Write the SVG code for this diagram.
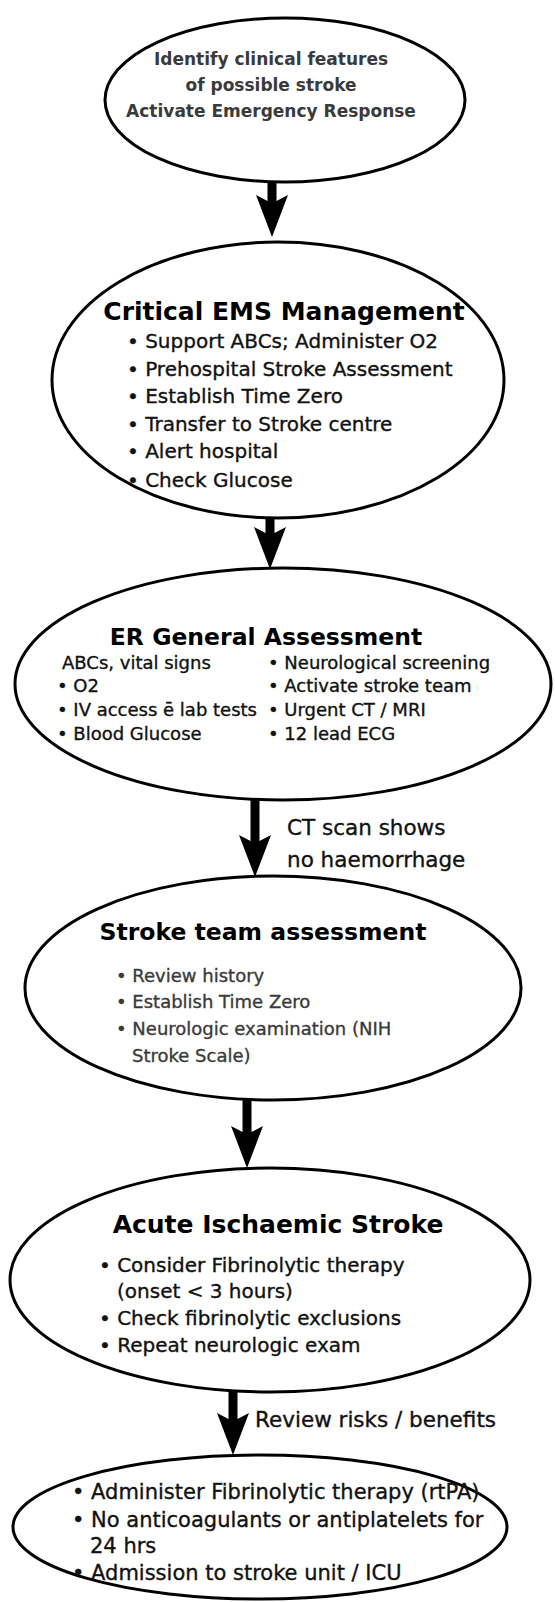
<svg xmlns="http://www.w3.org/2000/svg" width="555" height="1602" viewBox="0 0 555 1602">
<style>
.shape{fill:#fff;stroke:#000;stroke-width:3}
.t{font-family:"DejaVu Sans","Liberation Sans",sans-serif;fill:#111;stroke:#111;stroke-width:0.35}
.title{font-family:"DejaVu Sans","Liberation Sans",sans-serif;font-weight:bold;fill:#000;text-anchor:middle}
.gray{fill:#3a3a3a}
.t.gray{stroke:#3a3a3a}
.arrow{fill:#000}
</style>
<rect width="555" height="1602" fill="#fff"/>
<g id="connectors">
<path class="arrow" d="M267.5,180 L276.5,180 L276.5,201 L288,195 L272,237 L256,195 L267.5,201 Z"/>
<path class="arrow" d="M265.5,515 L274.5,515 L274.5,533 L286,527 L270,569 L254,527 L265.5,533 Z"/>
<path class="arrow" d="M250.5,798 L259.5,798 L259.5,841 L271,835 L255,877 L239,835 L250.5,841 Z"/>
<path class="arrow" d="M242.5,1098 L251.5,1098 L251.5,1132 L263,1126 L247,1168 L231,1126 L242.5,1132 Z"/>
<path class="arrow" d="M228.5,1390 L237.5,1390 L237.5,1419 L249,1413 L233,1455 L217,1413 L228.5,1419 Z"/>
<text class="t" x="287" y="835" font-size="21.5">CT scan shows</text>
<text class="t" x="287" y="867" font-size="21.5">no haemorrhage</text>
<text class="t" x="255" y="1427" font-size="21.5">Review risks / benefits</text>
</g>
<g id="n1">
<ellipse class="shape" cx="285" cy="100" rx="180" ry="82"/>
<text class="title gray" font-size="17" x="271" y="65">Identify clinical features</text>
<text class="title gray" font-size="17" x="271" y="91">of possible stroke</text>
<text class="title gray" font-size="17" x="271" y="117">Activate Emergency Response</text>
</g>
<g id="n2">
<ellipse class="shape" cx="278" cy="380" rx="226" ry="138"/>
<text class="title" font-size="25" x="284" y="320">Critical EMS Management</text>
<g class="t" font-size="20">
<text x="127" y="348">• Support ABCs; Administer O2</text>
<text x="127" y="376">• Prehospital Stroke Assessment</text>
<text x="127" y="403">• Establish Time Zero</text>
<text x="127" y="431">• Transfer to Stroke centre</text>
<text x="127" y="458">• Alert hospital</text>
<text x="127" y="487">• Check Glucose</text>
</g>
</g>
<g id="n3">
<ellipse class="shape" cx="283" cy="684" rx="268" ry="116"/>
<text class="title" font-size="23.5" x="266" y="645">ER General Assessment</text>
<g class="t" font-size="18">
<text x="62" y="669">ABCs, vital signs</text>
<text x="57" y="692">• O2</text>
<text x="57" y="716">• IV access ē lab tests</text>
<text x="57" y="740">• Blood Glucose</text>
<text x="268" y="669">• Neurological screening</text>
<text x="268" y="692">• Activate stroke team</text>
<text x="268" y="716">• Urgent CT / MRI</text>
<text x="268" y="740">• 12 lead ECG</text>
</g>
</g>
<g id="n4">
<ellipse class="shape" cx="273" cy="988" rx="248" ry="112"/>
<text class="title" font-size="23.5" x="263" y="940">Stroke team assessment</text>
<g class="t gray" font-size="18">
<text x="116" y="982">• Review history</text>
<text x="116" y="1008">• Establish Time Zero</text>
<text x="116" y="1035">• Neurologic examination (NIH</text>
<text x="132" y="1062">Stroke Scale)</text>
</g>
</g>
<g id="n5">
<ellipse class="shape" cx="270" cy="1280" rx="260" ry="112"/>
<text class="title" font-size="25" x="278" y="1233">Acute Ischaemic Stroke</text>
<g class="t" font-size="20">
<text x="99" y="1272">• Consider Fibrinolytic therapy</text>
<text x="117" y="1298">(onset &lt; 3 hours)</text>
<text x="99" y="1325">• Check fibrinolytic exclusions</text>
<text x="99" y="1352">• Repeat neurologic exam</text>
</g>
</g>
<g id="n6">
<ellipse class="shape" cx="260" cy="1527" rx="247" ry="72"/>
<g class="t" font-size="21">
<text x="72" y="1499">• Administer Fibrinolytic therapy (rtPA)</text>
<text x="72" y="1527">• No anticoagulants or antiplatelets for</text>
<text x="90" y="1553">24 hrs</text>
<text x="72" y="1580">• Admission to stroke unit / ICU</text>
</g>
</g>
</svg>
